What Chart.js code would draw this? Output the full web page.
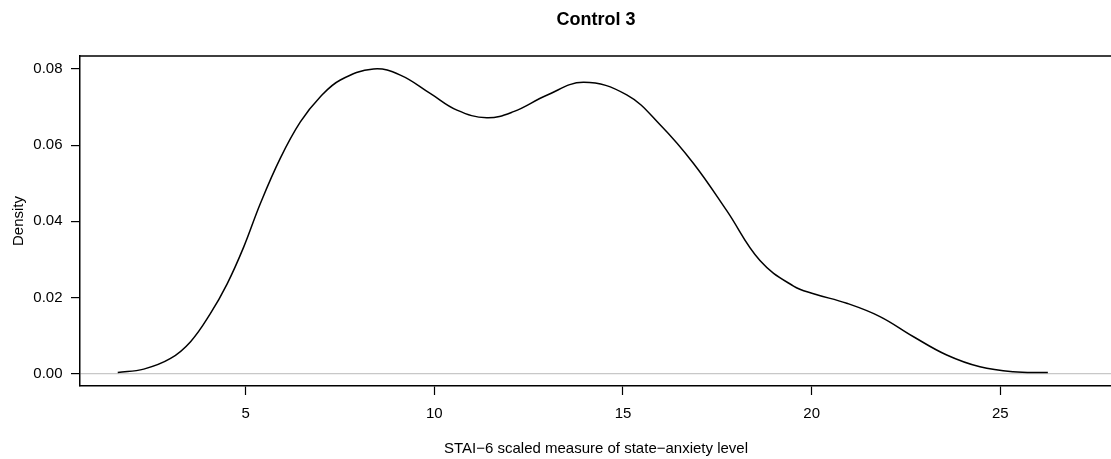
<!DOCTYPE html>
<html>
<head>
<meta charset="utf-8">
<script src="https://cdn.jsdelivr.net/npm/chart.js@4/dist/chart.umd.min.js"></script>
<style>
  html, body { margin: 0; padding: 0; background: #fff; }
  #wrap { width: 1111px; height: 459px; overflow: hidden; position: relative; }
  canvas { display: block; }
</style>
</head>
<body>
<div id="wrap"><canvas id="c" width="1192" height="459"></canvas></div>
<script>
// ---- data ----
const densityX = [1.61, 2.30, 3.01, 3.54, 4.06, 4.51, 4.95, 5.39, 5.92, 6.45, 6.98, 7.51, 8.39, 9.10, 9.89, 10.60, 11.39, 12.10, 12.98, 13.95, 15.10, 15.99, 16.87, 17.75, 18.63, 19.52, 20.05, 20.93, 21.81, 22.70, 23.58, 24.46, 25.34, 26.26];
const densityY = [0.0003, 0.0012, 0.0040, 0.0084, 0.0157, 0.0236, 0.0333, 0.0447, 0.0566, 0.0661, 0.0727, 0.0771, 0.0800, 0.0784, 0.0736, 0.0692, 0.0672, 0.0688, 0.0731, 0.0765, 0.0732, 0.0653, 0.0552, 0.0428, 0.0297, 0.0230, 0.0210, 0.0185, 0.0150, 0.0097, 0.0049, 0.0018, 0.0005, 0.0003];
const xTickValues = [5, 10, 15, 20, 25];
const yTickValues = [0, 0.02, 0.04, 0.06, 0.08];
const chartTitle = "Control 3";
const xAxisTitle = "STAI\u22126 scaled measure of state\u2212anxiety level";
const yAxisTitle = "Density";

const FONT = "'Liberation Sans', Arial, Helvetica, sans-serif";
const points = densityX.map((x, i) => ({ x: x, y: densityY[i] }));

const boxPlugin = {
  id: 'boxPlugin',
  afterDraw(chart) {
    const { ctx, chartArea: a } = chart;
    ctx.save();
    ctx.strokeStyle = '#000';
    ctx.lineWidth = 1.5;
    ctx.beginPath();
    ctx.moveTo(a.left, a.top);
    ctx.lineTo(a.right, a.top);
    ctx.lineTo(a.right, a.bottom);
    ctx.stroke();
    // main title, centred over the plot region
    ctx.fillStyle = '#000';
    ctx.font = "bold 18px " + FONT;
    ctx.textAlign = 'center';
    ctx.textBaseline = 'middle';
    ctx.fillText(chartTitle, (a.left + a.right) / 2, 20);
    ctx.restore();
  }
};

new Chart(document.getElementById('c'), {
  type: 'line',
  data: {
    datasets: [{
      data: points,
      borderColor: '#000',
      borderWidth: 1.5,
      pointRadius: 0,
      fill: false,
      tension: 0.4
    }]
  },
  options: {
    responsive: false,
    devicePixelRatio: 1,
    animation: false,
    events: [],
    layout: { padding: { top: 56, right: 80, bottom: 0, left: 0 } },
    plugins: {
      legend: { display: false },
      tooltip: { enabled: false },
      title: { display: false }
    },
    scales: {
      x: {
        type: 'linear',
        min: 0.61,
        max: 27.96,
        afterFit(s) { s.height = 73; },
        afterBuildTicks(s) { s.ticks = xTickValues.map(v => ({ value: v })); },
        ticks: {
          autoSkip: false, maxRotation: 0, color: '#000', padding: 10,
          font: { family: FONT, size: 15 },
          callback: v => String(v)
        },
        grid: { drawOnChartArea: false, drawTicks: true, tickLength: 9, tickColor: '#000', tickWidth: 1.2, color: '#000' },
        border: { display: true, color: '#000', width: 1.5 },
        title: {
          display: true, text: xAxisTitle, color: '#000',
          font: { family: FONT, size: 15, lineHeight: 1.2 },
          padding: { top: 0, bottom: 1.5 }
        }
      },
      y: {
        type: 'linear',
        min: -0.00323,
        max: 0.08341,
        afterFit(s) { s.width = 80; },
        afterBuildTicks(s) { s.ticks = yTickValues.map(v => ({ value: v })); },
        ticks: {
          autoSkip: false, color: '#000', padding: 8.5,
          font: { family: FONT, size: 15 },
          callback: v => Number(v).toFixed(2)
        },
        grid: {
          drawOnChartArea: true, drawTicks: true, tickLength: 9, tickColor: '#000', tickWidth: 1.2,
          color: ctx => (ctx.tick && ctx.tick.value === 0) ? '#c8c8c8' : 'rgba(0,0,0,0)',
          lineWidth: 1.2
        },
        border: { display: true, color: '#000', width: 1.5 },
        title: {
          display: true, text: yAxisTitle, color: '#000',
          font: { family: FONT, size: 15, lineHeight: 1.2 },
          padding: { top: 9.5, bottom: 0 }
        }
      }
    }
  },
  plugins: [boxPlugin]
});
</script>
</body>
</html>
